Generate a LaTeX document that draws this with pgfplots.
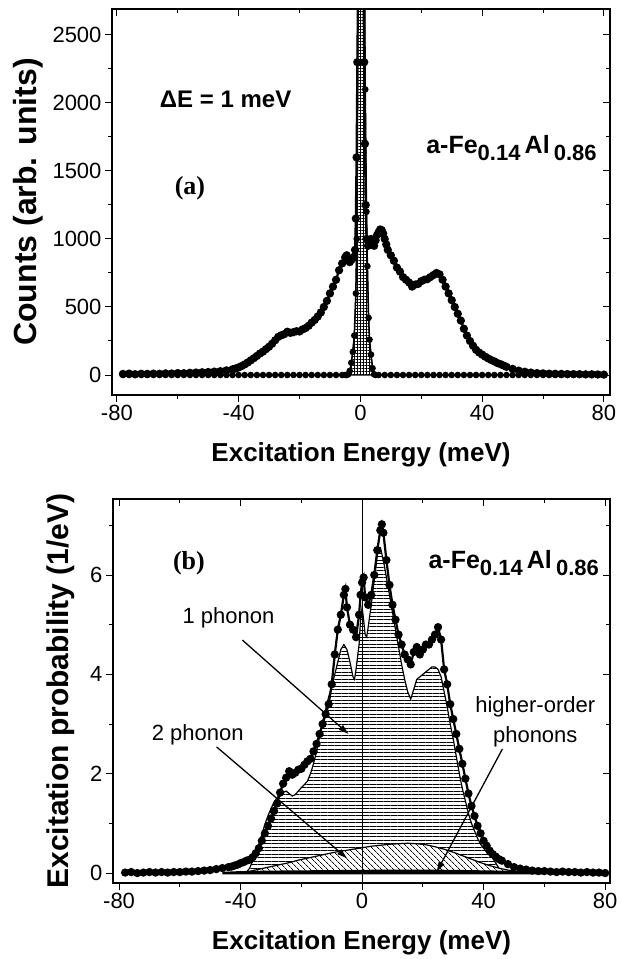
\documentclass[border=0pt]{standalone}
\usepackage{fontspec}
\setmainfont{Liberation Sans}
\newfontfamily\timesfont{Liberation Serif}
\usepackage{pgfplots}
\usepackage{pgfplotstable}
\pgfplotsset{compat=1.18}
\usetikzlibrary{patterns.meta,arrows.meta}

% ---------- top panel: measured spectrum ----------
\pgfplotstableread[row sep=\\]{x y\\
-78 8\\ -76 10\\ -74 6\\ -72 9\\ -70 8\\ -68 10\\ -66 9\\ -64 12\\ -62 11\\ -60 14\\ -58 13\\ -56 16\\ -54 18\\ -52 20\\ -50 22\\ -48 25\\ -46 28\\ -44 34\\ -42 42\\ -41 48\\ -40 56\\ -39 66\\ -38 78\\ -37 92\\ -36 108\\ -35 124\\ -34 140\\ -33 158\\ -32 172\\ -31 190\\ -30 208\\ -29 230\\ -28 255\\ -27 280\\ -26 292\\ -25 300\\ -24 318\\ -23 310\\ -22 315\\ -21 322\\ -20 320\\ -19 335\\ -18 345\\ -17 362\\ -16 385\\ -15 405\\ -14 430\\ -13 460\\ -12 500\\ -11 545\\ -10 600\\ -9 650\\ -8 700\\ -7 770\\ -6 820\\ -5 865\\ -4.5 880\\ -4 850\\ -3.5 830\\ -3 845\\ -2.5 860\\ -2 870\\ -1.75 920\\ -1.5 1150\\ -1.25 1600\\ -1 2300\\ -0.75 2900\\ -0.5 6000\\ 0 9000\\ 0.5 8000\\ 0.75 4000\\ 1 2900\\ 1.25 2300\\ 1.5 1700\\ 1.75 1250\\ 2 1000\\ 2.5 950\\ 3 990\\ 3.5 1000\\ 4 960\\ 4.5 950\\ 5 990\\ 5.5 1030\\ 6 1050\\ 6.5 1070\\ 7 1065\\ 7.5 1040\\ 8 1000\\ 8.5 960\\ 9 920\\ 10 880\\ 11 840\\ 12 790\\ 13 760\\ 14 720\\ 15 700\\ 16 680\\ 17 650\\ 18 665\\ 19 670\\ 20 690\\ 21 700\\ 22 705\\ 23 720\\ 24 735\\ 25 750\\ 26 740\\ 27 700\\ 28 650\\ 29 600\\ 30 550\\ 31 500\\ 32 450\\ 33 400\\ 34 340\\ 35 290\\ 36 250\\ 37 215\\ 38 185\\ 39 165\\ 40 150\\ 41 135\\ 42 122\\ 43 110\\ 44 100\\ 45 88\\ 46 80\\ 47 70\\ 48 60\\ 50 45\\ 52 32\\ 54 24\\ 56 18\\ 58 14\\ 60 12\\ 62 10\\ 64 9\\ 66 8\\ 68 7\\ 70 7\\ 72 6\\ 74 5\\ 76 5\\ 78 4\\ 80 3\\
}\topmeas

% ---------- top panel: resolution function ----------
\pgfplotstableread[row sep=\\]{x y\\
-78 0\\ -76 0\\ -74 0\\ -72 0\\ -70 0\\ -68 0\\ -66 0\\ -64 0\\ -62 0\\ -60 0\\ -58 0\\ -56 0\\ -54 0\\ -52 0\\ -50 0\\ -48 0\\ -46 0\\ -44 0\\ -42 0\\ -40 0\\ -38 0\\ -36 0\\ -34 0\\ -32 0\\ -30 0\\ -28 0\\ -26 0\\ -24 0\\ -22 0\\ -20 0\\ -18 0\\ -16 0\\ -14 0\\ -12 0\\ -10 0\\ -8 0\\ -6 0\\ -5 0\\ -4.5 0\\ -4 5\\ -3.5 30\\ -3 90\\ -2.5 170\\ -2 290\\ -1.5 600\\ -1.2 1000\\ -1 1600\\ -0.8 3000\\ -0.5 8000\\ 0 12000\\ 0.5 12000\\ 1 8000\\ 1.3 3200\\ 1.6 2100\\ 2 1200\\ 2.3 800\\ 2.7 420\\ 3 260\\ 3.5 150\\ 4 50\\ 4.5 5\\ 5 0\\ 6 0\\ 8 0\\ 10 0\\ 12 0\\ 14 0\\ 16 0\\ 18 0\\ 20 0\\ 22 0\\ 24 0\\ 26 0\\ 28 0\\ 30 0\\ 32 0\\ 34 0\\ 36 0\\ 38 0\\ 40 0\\ 42 0\\ 44 0\\ 46 0\\ 48 0\\ 50 0\\ 52 0\\ 54 0\\ 56 0\\ 58 0\\ 60 0\\ 62 0\\ 64 0\\ 66 0\\ 68 0\\ 70 0\\ 72 0\\ 74 0\\ 76 0\\ 78 0\\ 80 0\\
}\topres

% ---------- bottom panel: measured excitation probability ----------
\pgfplotstableread[row sep=\\]{x y\\
-78 0.01\\ -76 0.02\\ -74 0.00\\ -72 0.01\\ -70 0.02\\ -68 0.01\\ -66 0.02\\ -64 0.01\\ -62 0.02\\ -60 0.02\\ -58 0.03\\ -56 0.03\\ -54 0.04\\ -52 0.05\\ -50 0.06\\ -48 0.08\\ -46 0.10\\ -44 0.12\\ -43 0.13\\ -42 0.15\\ -41 0.17\\ -40 0.20\\ -39 0.22\\ -38 0.25\\ -37 0.27\\ -36 0.32\\ -35 0.40\\ -34 0.50\\ -33 0.65\\ -32 0.80\\ -31 0.95\\ -30 1.10\\ -29 1.25\\ -28 1.40\\ -27 1.62\\ -26 1.80\\ -25 1.92\\ -24 2.05\\ -23 1.98\\ -22 2.02\\ -21 2.08\\ -20 2.10\\ -19 2.18\\ -18 2.25\\ -17 2.30\\ -16 2.45\\ -15 2.60\\ -14 2.80\\ -13 3.00\\ -12 3.20\\ -11 3.40\\ -10 3.80\\ -9 4.40\\ -8 4.90\\ -7 5.20\\ -6 5.60\\ -5.5 5.72\\ -5 5.35\\ -4 5.00\\ -3 4.90\\ -2 4.75\\ -1 5.20\\ -0.5 5.60\\ 0 5.85\\ 0.5 5.95\\ 1 5.55\\ 2 5.40\\ 3 5.60\\ 4 6.00\\ 5 6.50\\ 6 6.90\\ 6.5 7.02\\ 7 6.85\\ 8 6.30\\ 9 5.80\\ 10 5.40\\ 11 5.10\\ 12 4.80\\ 13 4.60\\ 14 4.40\\ 15 4.30\\ 16 4.20\\ 17 4.45\\ 18 4.55\\ 19 4.40\\ 20 4.50\\ 21 4.60\\ 22 4.60\\ 23 4.70\\ 24 4.80\\ 25 4.95\\ 26 4.70\\ 27 4.10\\ 28 3.80\\ 29 3.40\\ 30 3.10\\ 31 2.80\\ 32 2.50\\ 33 2.20\\ 34 1.90\\ 35 1.60\\ 36 1.35\\ 37 1.15\\ 38 0.95\\ 39 0.80\\ 40 0.65\\ 41 0.55\\ 42 0.45\\ 43 0.38\\ 44 0.33\\ 45 0.28\\ 46 0.25\\ 48 0.18\\ 50 0.12\\ 52 0.09\\ 54 0.07\\ 56 0.05\\ 58 0.04\\ 60 0.04\\ 62 0.03\\ 64 0.02\\ 66 0.03\\ 68 0.02\\ 70 0.02\\ 72 0.01\\ 74 0.02\\ 76 0.01\\ 78 0.01\\ 80 0.00\\
}\botmeas

% ---------- bottom panel: 1-phonon ----------
\pgfplotstableread[row sep=\\]{x y\\
-40 0\\ -38 0.02\\ -37 0.10\\ -36 0.25\\ -35 0.40\\ -34 0.58\\ -33 0.78\\ -32 0.98\\ -31 1.15\\ -30 1.30\\ -29 1.42\\ -28 1.52\\ -27 1.58\\ -26 1.62\\ -25 1.65\\ -24 1.60\\ -23 1.55\\ -22 1.58\\ -21 1.65\\ -20 1.72\\ -19 1.78\\ -18 1.85\\ -17 2.00\\ -16 2.20\\ -15 2.45\\ -14 2.75\\ -13 3.05\\ -12 3.30\\ -11 3.55\\ -10 3.75\\ -9 4.00\\ -8 4.25\\ -7 4.50\\ -6 4.60\\ -5 4.50\\ -4 4.25\\ -3 3.95\\ -2.5 3.90\\ -2 4.10\\ -1 4.60\\ -0.5 5.10\\ 0 5.35\\ 0.5 5.10\\ 1 4.80\\ 1.5 4.75\\ 2 4.95\\ 3 5.40\\ 4 5.90\\ 5 6.40\\ 5.5 6.55\\ 6 6.55\\ 7 6.30\\ 8 5.95\\ 9 5.60\\ 10 5.25\\ 11 4.90\\ 12 4.55\\ 13 4.20\\ 14 3.90\\ 15 3.65\\ 16 3.50\\ 17 3.70\\ 18 3.90\\ 19 3.95\\ 20 4.00\\ 21 4.05\\ 22 4.10\\ 23 4.15\\ 24 4.15\\ 25 4.10\\ 26 3.95\\ 27 3.65\\ 28 3.35\\ 29 3.00\\ 30 2.70\\ 31 2.35\\ 32 2.00\\ 33 1.70\\ 34 1.45\\ 35 1.20\\ 36 1.00\\ 37 0.85\\ 38 0.70\\ 39 0.58\\ 40 0.50\\ 41 0.42\\ 42 0.35\\ 43 0.30\\ 44 0.20\\ 45 0.10\\ 46 0.05\\ 48 0\\
}\onephon

% ---------- bottom panel: 2-phonon ----------
\pgfplotstableread[row sep=\\]{x y\\
-40 0\\ -38 0.02\\ -36 0.05\\ -33 0.09\\ -30 0.13\\ -27 0.17\\ -24 0.21\\ -21 0.26\\ -18 0.30\\ -15 0.34\\ -12 0.38\\ -9 0.42\\ -6 0.45\\ -3 0.48\\ 0 0.51\\ 3 0.54\\ 6 0.56\\ 9 0.58\\ 12 0.59\\ 15 0.60\\ 18 0.59\\ 21 0.57\\ 24 0.53\\ 27 0.48\\ 30 0.42\\ 33 0.35\\ 36 0.28\\ 39 0.21\\ 42 0.15\\ 45 0.10\\ 48 0.06\\ 51 0.03\\ 54 0.01\\ 56 0\\
}\twophon

% ---------- bottom panel: higher-order phonons ----------
\pgfplotstableread[row sep=\\]{x y\\
-46 0\\ -40 0.015\\ -30 0.025\\ -20 0.03\\ -10 0.035\\ 0 0.04\\ 10 0.045\\ 20 0.045\\ 30 0.04\\ 40 0.03\\ 50 0.02\\ 56 0.01\\ 60 0\\
}\highphon

\pgfplotsset{
  myax/.style={scale only axis, axis line style={line width=1.2pt},
    tick align=outside, tick pos=left,
    major tick length=7pt, minor tick length=4pt,
    every tick/.style={black, line width=1pt},
    tick label style={font=\fontsize{22}{25}\selectfont},
    /pgf/number format/assume math mode=true,
    /pgf/number format/1000 sep={},
    xlabel style={anchor=north, inner sep=0pt, font=\fontsize{26}{30}\selectfont\bfseries},
    ylabel style={anchor=north, inner sep=0pt, font=\fontsize{30}{34}\selectfont\bfseries}},
  myov/.style={scale only axis, axis line style={line width=1.2pt},
    tick align=inside, tick pos=right,
    major tick length=7pt, minor tick length=4pt,
    every tick/.style={black, line width=1pt},
    xticklabels={}, yticklabels={}},
  dots/.style={black, line width=2.2pt, mark=*, mark size=3pt, mark options={fill=black}}
}

\begin{document}
\begin{tikzpicture}
\path[use as bounding box] (0pt,0pt) rectangle (621pt,959pt);

% ================= TOP PANEL =================
\begin{axis}[myax, at={(112pt,564pt)}, width=498pt, height=386pt,
  xmin=-81.6, xmax=82, ymin=-147, ymax=2691,
  xtick={-80,-40,0,40,80}, minor xtick={-60,-20,20,60},
  ytick={0,500,1000,1500,2000,2500}, minor ytick={250,750,1250,1750,2250},
  xlabel={Excitation Energy (meV)}, ylabel={Counts (arb. units)},
  xlabel style={at={(axis description cs:0.5,-0.1218)}},
  ylabel style={at={(axis description cs:-0.1988,0.5)}, font=\fontsize{32}{36}\selectfont\bfseries}]
  \addplot[black, line width=1pt,
    pattern={Hatch[angle=0,distance=3pt,line width=0.5pt]}] table[x=x,y=y] {\topres} \closedcycle;
  \addplot[black, line width=1.5pt, mark=*, mark size=2.5pt, mark options={fill=black}] table[x=x,y=y] {\topres};
  \addplot[dots] table[x=x,y=y] {\topmeas};
  \node[anchor=west, font=\fontsize{24}{28}\selectfont\bfseries] at (axis cs:-67,2030) {ΔE = 1 meV};
  \node[font=\timesfont\bfseries\fontsize{26}{30}\selectfont] at (axis cs:-56,1370) {(a)};
  \node[anchor=base west, font=\fontsize{25}{30}\selectfont\bfseries] at (axis cs:20.5,1632)
    {a-Fe\raisebox{-7pt}{\fontsize{22}{25}\selectfont 0.14}\,Al\,\raisebox{-7pt}{\fontsize{22}{25}\selectfont 0.86}};
\end{axis}
\begin{axis}[myov, at={(112pt,564pt)}, width=498pt, height=386pt,
  xmin=-81.6, xmax=82, ymin=-147, ymax=2691,
  xtick={-80,-40,0,40,80}, minor xtick={-60,-20,20,60},
  ytick={0,500,1000,1500,2000,2500}, minor ytick={250,750,1250,1750,2250}]
\end{axis}

% ================= BOTTOM PANEL =================
\begin{axis}[myax, at={(113pt,76pt)}, width=497pt, height=384pt,
  xmin=-82, xmax=81.6, ymin=-0.2, ymax=7.53,
  xtick={-80,-40,0,40,80}, minor xtick={-60,-20,20,60},
  ytick={0,2,4,6}, minor ytick={1,3,5,7},
  xlabel={Excitation Energy (meV)}, ylabel={Excitation probability (1/eV)},
  xlabel style={at={(axis description cs:0.5,-0.1224)}},
  ylabel style={at={(axis description cs:-0.1328,0.5)}}]
  \addplot[black, line width=1.2pt,
    pattern={Lines[angle=0,distance=3.5pt,line width=0.8pt]}] table[x=x,y=y] {\onephon} \closedcycle;
  \addplot[draw=none, fill=white] table[x=x,y=y] {\twophon} \closedcycle;
  \addplot[black, line width=1.2pt,
    pattern={Lines[angle=-45,distance=4pt,line width=0.7pt]}] table[x=x,y=y] {\twophon} \closedcycle;
  \addplot[black, line width=2.5pt,
    pattern={Hatch[angle=45,distance=3pt,line width=0.5pt]}] table[x=x,y=y] {\highphon} \closedcycle;
  \addplot[black, line width=0.8pt] coordinates {(0,-0.2) (0,7.53)};
  \addplot[dots] table[x=x,y=y] {\botmeas};
  \draw[line width=1.3pt, -{Triangle[length=10pt,width=6pt]}] (axis cs:-39.4,4.69) -- (axis cs:-4.5,2.8);
  \draw[line width=1.3pt, -{Triangle[length=10pt,width=6pt]}] (axis cs:-47.9,2.54) -- (axis cs:-5,0.3);
  \draw[line width=1.3pt, -{Triangle[length=10pt,width=6pt]}] (axis cs:46.2,2.5) -- (axis cs:24.6,0.03);
  \node[font=\fontsize{22}{25}\selectfont] at (axis cs:-44,5.13) {1 phonon};
  \node[font=\fontsize{22}{25}\selectfont] at (axis cs:-54.1,2.78) {2 phonon};
  \node[font=\fontsize{22}{30}\selectfont, align=center] at (axis cs:57,3.05) {higher-order\\phonons};
  \node[font=\timesfont\bfseries\fontsize{26}{30}\selectfont] at (axis cs:-57,6.24) {(b)};
  \node[anchor=base west, font=\fontsize{25}{30}\selectfont\bfseries] at (axis cs:20.7,6.14)
    {a-Fe\raisebox{-7pt}{\fontsize{22}{25}\selectfont 0.14}\,Al\,\raisebox{-7pt}{\fontsize{22}{25}\selectfont 0.86}};
\end{axis}
\begin{axis}[myov, at={(113pt,76pt)}, width=497pt, height=384pt,
  xmin=-82, xmax=81.6, ymin=-0.2, ymax=7.53,
  xtick={-80,-40,0,40,80}, minor xtick={-60,-20,20,60},
  ytick={0,2,4,6}, minor ytick={1,3,5,7}]
\end{axis}
\end{tikzpicture}
\end{document}
